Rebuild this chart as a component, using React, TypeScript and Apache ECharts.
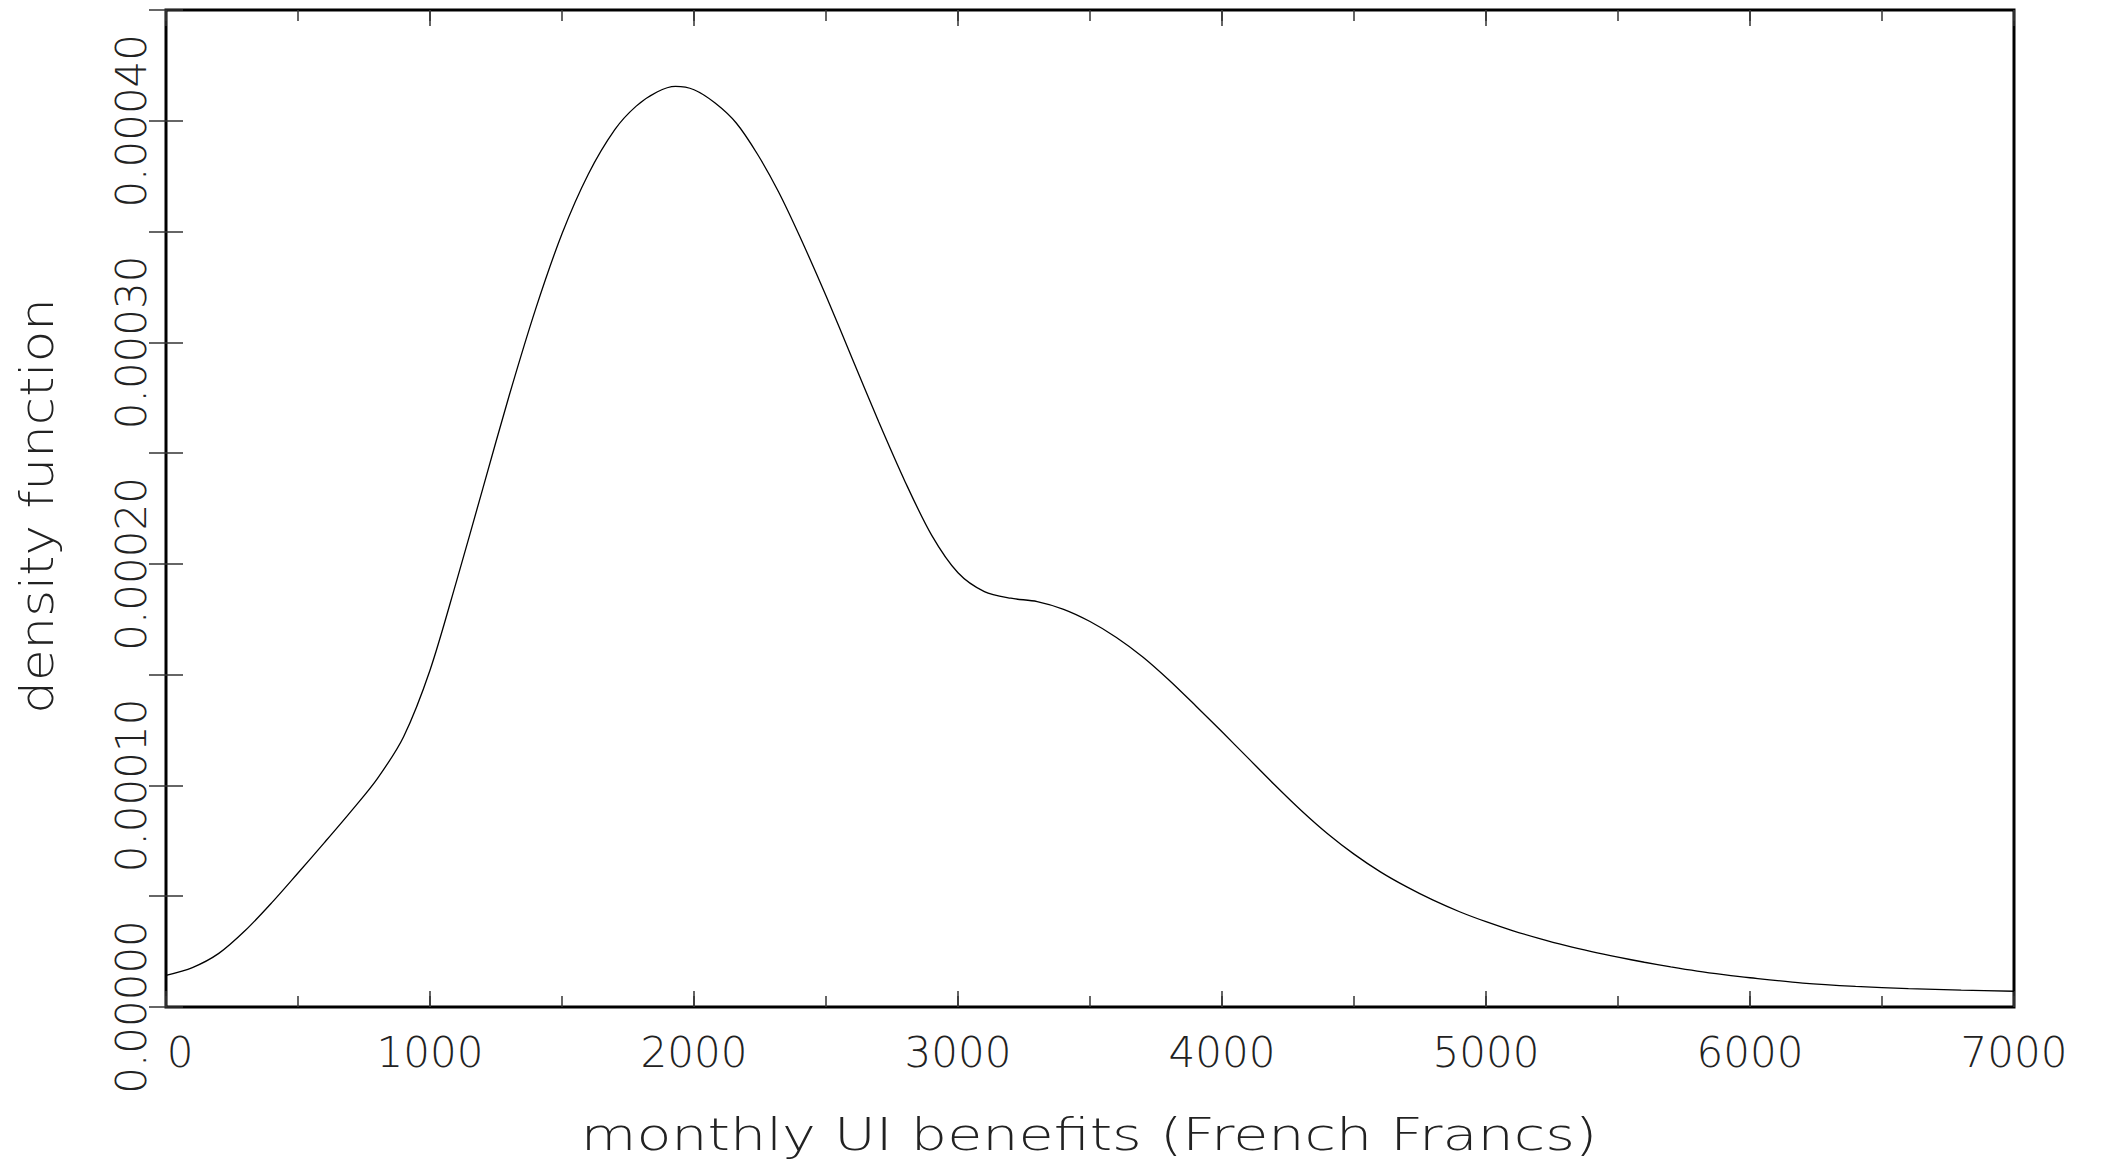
import React, { useEffect, useRef } from "react";
import * as echarts from "echarts";

// monthly UI benefits (French Francs)
const benefits = [
  0, 100, 200, 300, 400, 500, 600, 700, 800, 900, 1000, 1100, 1200, 1300, 1400,
  1500, 1600, 1700, 1780, 1860, 1930, 2000, 2080, 2160, 2240, 2320, 2400, 2500,
  2600, 2700, 2800, 2900, 3000, 3100, 3200, 3300, 3400, 3500, 3600, 3700, 3800,
  3900, 4000, 4100, 4200, 4300, 4400, 4500, 4600, 4700, 4800, 4900, 5000, 5100,
  5200, 5300, 5400, 5500, 5600, 5700, 5800, 5900, 6000, 6200, 6400, 6600, 6800,
  7000,
];

// estimated density values
const density = [
  1.43e-5, 1.78e-5, 2.42e-5, 3.45e-5, 4.7e-5, 6.05e-5, 7.42e-5, 8.82e-5,
  10.3e-5, 12.2e-5, 15.2e-5, 19.2e-5, 23.4e-5, 27.6e-5, 31.5e-5, 34.9e-5,
  37.6e-5, 39.6e-5, 40.65e-5, 41.3e-5, 41.55e-5, 41.4e-5, 40.8e-5, 39.9e-5,
  38.5e-5, 36.8e-5, 34.8e-5, 32.1e-5, 29.25e-5, 26.4e-5, 23.7e-5, 21.3e-5,
  19.6e-5, 18.75e-5, 18.45e-5, 18.3e-5, 17.95e-5, 17.4e-5, 16.68e-5, 15.8e-5,
  14.75e-5, 13.6e-5, 12.42e-5, 11.22e-5, 10.02e-5, 8.87e-5, 7.82e-5, 6.9e-5,
  6.1e-5, 5.42e-5, 4.82e-5, 4.3e-5, 3.85e-5, 3.45e-5, 3.1e-5, 2.78e-5, 2.5e-5,
  2.25e-5, 2.02e-5, 1.81e-5, 1.62e-5, 1.46e-5, 1.32e-5, 1.08e-5, 0.93e-5,
  0.83e-5, 0.76e-5, 0.71e-5,
];

const xTitle = "monthly UI benefits (French Francs)";
const yTitle = "density function";

const X_MIN = 0;
const X_MAX = 7000;
const X_STEP = 1000;
const X_MINOR_STEP = 500;
const Y_MIN = 0;
const Y_MAX = 0.00045;
const Y_STEP = 0.00005;

const FONT = "DejaVu Sans";
const TEXT_COLOR = "#222";
const TICK_COLOR = "#333";

export default function App() {
  const ref = useRef<HTMLDivElement>(null);

  useEffect(() => {
    if (!ref.current) return;
    const chart = echarts.init(ref.current, undefined, { renderer: "svg" });

    const labelFont = {
      fontFamily: FONT,
      fontSize: 42,
      fontWeight: 200,
      color: TEXT_COLOR,
    };

    const xAxisBase = (position: string, interval: number, len: number) => ({
      type: "value",
      position,
      min: X_MIN,
      max: X_MAX,
      interval,
      axisLine: { show: false },
      splitLine: { show: false },
      axisLabel: { show: false },
      axisTick: {
        show: true,
        inside: true,
        length: len,
        lineStyle: { color: TICK_COLOR, width: 1.5 },
      },
    });

    const yAxisBase = (position: string) => ({
      type: "value",
      position,
      min: Y_MIN,
      max: Y_MAX,
      interval: Y_STEP,
      axisLine: { show: false },
      splitLine: { show: false },
      axisLabel: { show: false },
      axisTick: {
        show: true,
        inside: true,
        length: 17,
        lineStyle: { color: TICK_COLOR, width: 1.5 },
      },
    });

    chart.setOption({
      animation: false,
      backgroundColor: "#ffffff",
      grid: {
        left: 166,
        right: 87,
        top: 10,
        bottom: 156,
        show: true,
        borderColor: "#000",
        borderWidth: 3,
        backgroundColor: "transparent",
        containLabel: false,
      },
      xAxis: [
        {
          ...xAxisBase("bottom", X_STEP, 16),
          axisLabel: {
            ...labelFont,
            show: true,
            margin: 24,
            formatter: (v: number) => (v === 0 ? "{z|0}" : String(v)),
            rich: {
              z: { ...labelFont, padding: [0, 0, 0, 28] },
            },
          },
        },
        xAxisBase("bottom", X_MINOR_STEP, 11),
        xAxisBase("top", X_STEP, 16),
        xAxisBase("top", X_MINOR_STEP, 11),
      ],
      yAxis: [
        {
          ...yAxisBase("left"),
          axisLabel: {
            ...labelFont,
            show: true,
            rotate: 90,
            margin: 14,
            formatter: (v: number) => {
              const k = Math.round(v / Y_STEP);
              return k % 2 === 0 && k < 9 ? v.toFixed(5) : "";
            },
          },
        },
        yAxisBase("right"),
      ],
      graphic: [
        {
          type: "text",
          x: 1089,
          y: 1157,
          scaleX: 1.27,
          style: {
            text: xTitle,
            fontFamily: FONT,
            fontSize: 45,
            fontWeight: 200,
            fill: TEXT_COLOR,
            align: "center",
            verticalAlign: "bottom",
          },
        },
        {
          type: "text",
          x: 37,
          y: 506,
          rotation: Math.PI / 2,
          scaleX: 1.12,
          style: {
            text: yTitle,
            fontFamily: FONT,
            fontSize: 46,
            fontWeight: 200,
            fill: TEXT_COLOR,
            align: "center",
            verticalAlign: "middle",
          },
        },
      ],
      series: [
        {
          type: "line",
          xAxisIndex: 0,
          yAxisIndex: 0,
          data: benefits.map((b, i) => [b, density[i]]),
          showSymbol: false,
          smooth: 0.3,
          lineStyle: { color: "#000", width: 1.3 },
          silent: true,
        },
      ],
    });

    return () => chart.dispose();
  }, []);

  return (
    <div
      ref={ref}
      style={{ position: "fixed", left: 0, top: 0, width: 2101, height: 1163 }}
    />
  );
}
